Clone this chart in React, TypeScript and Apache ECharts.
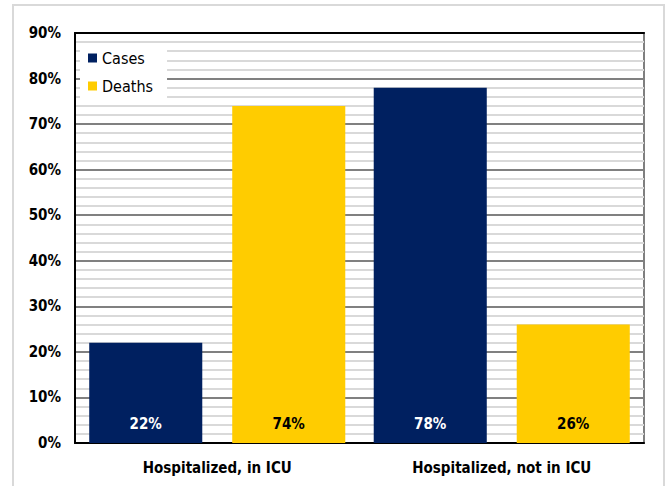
import React, { useEffect, useRef } from "react";
import * as echarts from "echarts";

const categories = ["Hospitalized, in ICU", "Hospitalized, not in ICU"];
const casesValues = [22, 78];
const deathsValues = [74, 26];
const seriesNames = ["Cases", "Deaths"];

const FONT = '"DejaVu Sans Condensed", "Liberation Sans", sans-serif';

export default function App() {
  const ref = useRef<HTMLDivElement>(null);
  useEffect(() => {
    document.body.style.margin = "0";
    const chart = echarts.init(ref.current!, null, { renderer: "svg" });
    const barLabel = (color: string) => ({
      show: true,
      position: "insideBottom",
      distance: 12,
      formatter: "{c}%",
      fontFamily: FONT,
      fontSize: 15,
      fontWeight: "bold",
      color,
    });
    chart.setOption({
      animation: false,
      backgroundColor: "#ffffff",
      textStyle: { fontFamily: FONT },
      graphic: [
        {
          type: "rect",
          shape: { x: 13, y: 5, width: 651, height: 500 },
          style: { fill: "none", stroke: "#d9d9d9", lineWidth: 2 },
          silent: true,
        },
      ],
      grid: {
        left: 75,
        right: 23,
        top: 33,
        bottom: 43,
        show: true,
        borderColor: "#7f7f7f",
        borderWidth: 2,
      },
      legend: {
        orient: "vertical",
        left: 80,
        top: 44,
        backgroundColor: "#ffffff",
        padding: [6, 14, 6, 8],
        itemGap: 12,
        icon: "rect",
        itemWidth: 9,
        itemHeight: 9,
        textStyle: { fontFamily: FONT, fontSize: 16, color: "#000" },
        data: seriesNames,
      },
      xAxis: [
        {
          type: "category",
          data: categories,
          axisLine: { lineStyle: { color: "#000", width: 2 } },
          axisTick: { show: false },
          axisLabel: {
            fontFamily: FONT,
            fontSize: 15,
            fontWeight: "bold",
            color: "#000",
            margin: 17,
          },
        },
        {
          type: "category",
          data: categories,
          position: "top",
          axisLine: { show: true, lineStyle: { color: "#000", width: 2 } },
          axisTick: { show: false },
          axisLabel: { show: false },
          splitLine: { show: false },
        },
      ],
      yAxis: {
        type: "value",
        min: 0,
        max: 90,
        interval: 10,
        axisLine: { show: true, lineStyle: { color: "#000", width: 2 } },
        axisTick: { show: false },
        axisLabel: {
          formatter: "{value}%",
          fontFamily: FONT,
          fontSize: 15,
          fontWeight: "bold",
          color: "#000",
          margin: 14,
        },
        splitLine: { show: true, lineStyle: { color: "#808080", width: 2 } },
        minorTick: { show: false, splitNumber: 5 },
        minorSplitLine: { show: true, lineStyle: { color: "#d9d9d9", width: 2 } },
      },
      series: [
        {
          name: seriesNames[0],
          type: "bar",
          data: casesValues,
          itemStyle: { color: "#002060" },
          barGap: "26.5%",
          barCategoryGap: "10%",
          label: barLabel("#ffffff"),
        },
        {
          name: seriesNames[1],
          type: "bar",
          data: deathsValues,
          itemStyle: { color: "#ffcc00" },
          barGap: "26.5%",
          barCategoryGap: "10%",
          label: barLabel("#000000"),
        },
      ],
    });
    return () => chart.dispose();
  }, []);
  return (
    <div
      ref={ref}
      style={{ position: "fixed", left: 0, top: 0, width: 667, height: 486 }}
    />
  );
}
